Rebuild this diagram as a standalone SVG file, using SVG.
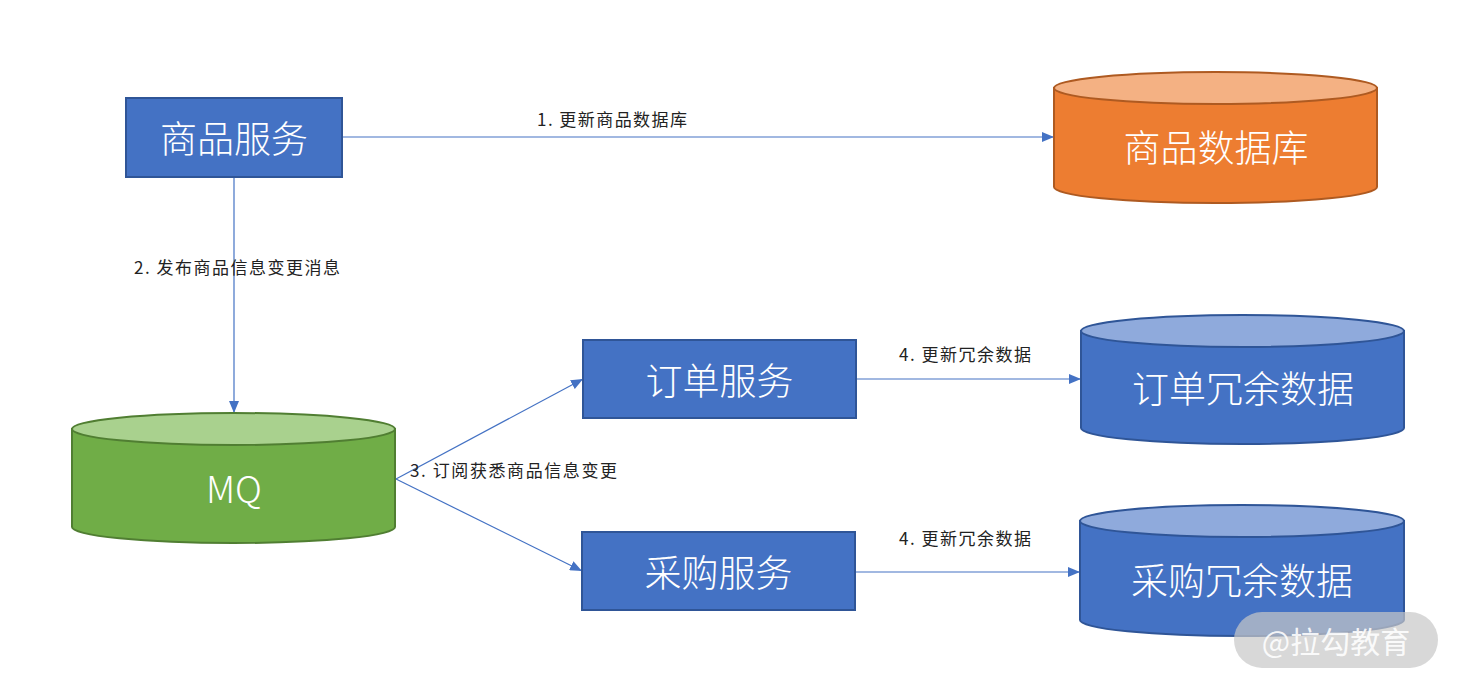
<svg xmlns="http://www.w3.org/2000/svg" width="1458" height="688" viewBox="0 0 1458 688">
<style>
.box{fill:#4472C4;stroke:#2F5597;stroke-width:2}
.big{font-family:"Noto Sans CJK SC","Noto Sans",sans-serif;font-size:37px;font-weight:300;fill:#fff;text-anchor:middle;dominant-baseline:central}
.lbl{font-family:"Noto Sans CJK SC","Noto Sans",sans-serif;font-size:17px;fill:#222}
.con{stroke:#4472C4;stroke-width:1.2;fill:none;marker-end:url(#ah)}
</style>
<defs>
<marker id="ah" viewBox="0 0 12 10" refX="12" refY="5" markerWidth="12" markerHeight="10" markerUnits="userSpaceOnUse" orient="auto">
<path d="M0,0 L12,5 L0,10 Z" fill="#4472C4"/>
</marker>
</defs>
<rect width="1458" height="688" fill="#fff"/>
<g id="connectors">
<line class="con" x1="342" y1="137" x2="1054" y2="137"/>
<line class="con" x1="234" y1="177" x2="234" y2="413"/>
<line class="con" x1="396" y1="479" x2="583" y2="379"/>
<line class="con" x1="396" y1="479" x2="582" y2="571"/>
<line class="con" x1="856" y1="379" x2="1081" y2="379"/>
<line class="con" x1="855" y1="572" x2="1080" y2="572"/>
<text class="lbl" x="537" y="126" textLength="150" lengthAdjust="spacing">1. 更新商品数据库</text>
<text class="lbl" x="134" y="274" textLength="206" lengthAdjust="spacing">2. 发布商品信息变更消息</text>
<text class="lbl" x="410" y="477" textLength="207" lengthAdjust="spacing">3. 订阅获悉商品信息变更</text>
<text class="lbl" x="899" y="361" textLength="132" lengthAdjust="spacing">4. 更新冗余数据</text>
<text class="lbl" x="899" y="545" textLength="132" lengthAdjust="spacing">4. 更新冗余数据</text>
</g>
<g id="n-goods-service">
<rect class="box" x="126" y="98" width="216" height="79"/>
<text class="big" x="234" y="137">商品服务</text>
</g>
<g id="n-goods-db">
<path d="M1054,88 L1054,187 A161.5,16 0 0 0 1377,187 L1377,88 Z" fill="#ED7D31" stroke="#AE5A21" stroke-width="2"/>
<ellipse cx="1215.5" cy="88" rx="161.5" ry="16" fill="#F4B183" stroke="#AE5A21" stroke-width="2"/>
<text class="big" x="1216" y="146">商品数据库</text>
</g>
<g id="n-mq">
<path d="M72,429 L72,527 A161.5,16 0 0 0 395,527 L395,429 Z" fill="#70AD47" stroke="#507E32" stroke-width="2"/>
<ellipse cx="233.5" cy="429" rx="161.5" ry="16" fill="#A9D18E" stroke="#507E32" stroke-width="2"/>
<text class="big" x="234" y="487">MQ</text>
</g>
<g id="n-order-service">
<rect class="box" x="583" y="340" width="273" height="78"/>
<text class="big" x="719.5" y="379">订单服务</text>
</g>
<g id="n-purchase-service">
<rect class="box" x="582" y="532" width="273" height="78"/>
<text class="big" x="718.5" y="571">采购服务</text>
</g>
<g id="n-order-data">
<path d="M1081,331 L1081,428 A161.5,16 0 0 0 1404,428 L1404,331 Z" fill="#4472C4" stroke="#2F5597" stroke-width="2"/>
<ellipse cx="1242.5" cy="331" rx="161.5" ry="16" fill="#8FAADC" stroke="#2F5597" stroke-width="2"/>
<text class="big" x="1243" y="387">订单冗余数据</text>
</g>
<g id="n-purchase-data">
<path d="M1080,521 L1080,620 A162,16 0 0 0 1404,620 L1404,521 Z" fill="#4472C4" stroke="#2F5597" stroke-width="2"/>
<ellipse cx="1242" cy="521" rx="162" ry="16" fill="#8FAADC" stroke="#2F5597" stroke-width="2"/>
<text class="big" x="1242" y="579">采购冗余数据</text>
</g>
<g id="watermark">
<rect x="1234" y="612" width="204" height="56" rx="28" fill="#C8C8C8" fill-opacity="0.7"/>
<text x="1336" y="640" font-family="Noto Sans CJK SC,sans-serif" font-size="30" fill="#fff" fill-opacity="0.9" text-anchor="middle" dominant-baseline="central">@拉勾教育</text>
</g>
</svg>
